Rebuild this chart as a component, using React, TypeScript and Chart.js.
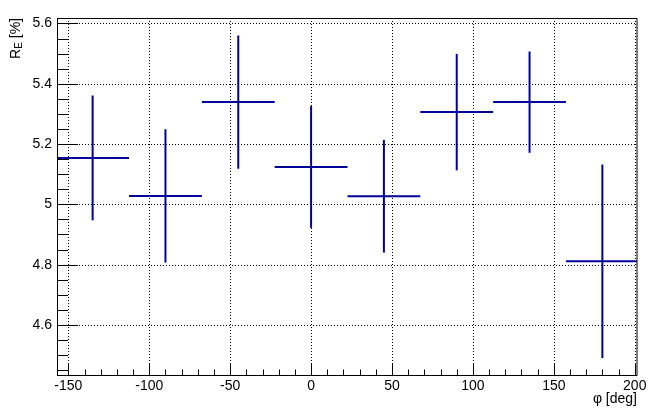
import React, { useEffect, useRef } from "react";
import { Chart, registerables } from "chart.js";

Chart.register(...registerables);

// ---- data ----
const phi = [-135, -90, -45, 0, 45, 90, 135, 180];
const phiErr = [22.5, 22.5, 22.5, 22.5, 22.5, 22.5, 22.5, 22.5];
const re = [5.154, 5.028, 5.339, 5.124, 5.027, 5.306, 5.339, 4.811];
const reErr = [0.207, 0.221, 0.221, 0.202, 0.187, 0.193, 0.168, 0.321];

const xMajorTicks = [-150, -100, -50, 0, 50, 100, 150, 200];
const xMinorTicks = [-150, -140, -130, -120, -110, -100, -90, -80, -70, -60, -50, -40, -30, -20, -10, 0, 10, 20, 30, 40, 50, 60, 70, 80, 90, 100, 110, 120, 130, 140, 150, 160, 170, 180, 190, 200];
const yMajorTicks = [4.6, 4.8, 5.0, 5.2, 5.4, 5.6];
const yMinorTicks = [4.45, 4.5, 4.55, 4.6, 4.65, 4.7, 4.75, 4.8, 4.85, 4.9, 4.95, 5.0, 5.05, 5.1, 5.15, 5.2, 5.25, 5.3, 5.35, 5.4, 5.45, 5.5, 5.55, 5.6];

const X_MIN = -156.4;
const X_MAX = 201.4;
const Y_MIN = 4.434;
const Y_MAX = 5.618;

const COLOR = "#000099";
const FONT = "'Liberation Sans', Arial, Helvetica, sans-serif";

const framePlugin = {
  id: "rootFrame",
  beforeDatasetsDraw(chart: any) {
    const { ctx, chartArea, scales } = chart;
    const { left, right, top, bottom } = chartArea;
    ctx.save();
    ctx.strokeStyle = "#000";
    ctx.lineWidth = 1;
    ctx.setLineDash([1, 2]);
    for (const v of xMajorTicks) {
      const px = Math.round(scales.x.getPixelForValue(v)) + 0.5;
      ctx.beginPath();
      ctx.moveTo(px, top);
      ctx.lineTo(px, bottom);
      ctx.stroke();
    }
    for (const v of yMajorTicks) {
      const py = Math.round(scales.y.getPixelForValue(v)) + 0.5;
      ctx.beginPath();
      ctx.moveTo(left, py);
      ctx.lineTo(right, py);
      ctx.stroke();
    }
    ctx.restore();
  },
  afterDatasetsDraw(chart: any) {
    const { ctx, chartArea, scales } = chart;
    const { left, right, top, bottom } = chartArea;
    ctx.save();
    ctx.strokeStyle = "#000";
    ctx.lineWidth = 1;
    ctx.setLineDash([]);
    // frame
    ctx.strokeRect(left - 0.5, top + 0.5, right - left + 0.5, bottom - top);
    // y ticks (inward)
    for (const v of yMinorTicks) {
      const py = Math.round(scales.y.getPixelForValue(v)) + 0.5;
      const major = yMajorTicks.some((m) => Math.abs(m - v) < 1e-6);
      ctx.beginPath();
      ctx.moveTo(left, py);
      ctx.lineTo(left + (major ? 20 : 10), py);
      ctx.stroke();
    }
    // x ticks (inward)
    for (const v of xMinorTicks) {
      const px = Math.round(scales.x.getPixelForValue(v)) + 0.5;
      const major = xMajorTicks.some((m) => Math.abs(m - v) < 1e-6);
      ctx.beginPath();
      ctx.moveTo(px, bottom);
      ctx.lineTo(px, bottom - (major ? 11 : 5.5));
      ctx.stroke();
    }
    ctx.restore();
  },
  afterDraw(chart: any) {
    const { ctx, chartArea } = chart;
    ctx.save();
    ctx.fillStyle = "#000";
    // y title: R_E [%]
    ctx.translate(20, chartArea.top);
    ctx.rotate(-Math.PI / 2);
    ctx.textBaseline = "alphabetic";
    ctx.textAlign = "left";
    const big = `14px ${FONT}`;
    const small = `10px ${FONT}`;
    ctx.font = big;
    const wR = ctx.measureText("R").width;
    const wRest = ctx.measureText(" [%]").width;
    ctx.font = small;
    const wE = ctx.measureText("E").width;
    const total = wR + wE + wRest;
    let xPos = -total;
    ctx.font = big;
    ctx.fillText("R", xPos, 0);
    xPos += wR;
    ctx.font = small;
    ctx.fillText("E", xPos, 2);
    xPos += wE;
    ctx.font = big;
    ctx.fillText(" [%]", xPos, 0);
    ctx.restore();

    // x title
    ctx.save();
    ctx.fillStyle = "#000";
    ctx.font = `14px ${FONT}`;
    ctx.textAlign = "right";
    ctx.textBaseline = "alphabetic";
    ctx.fillText("\u03c6 [deg]", chartArea.right, 403);
    ctx.restore();
  },
};

function buildDatasets() {
  const ds: any[] = [];
  phi.forEach((x, i) => {
    const y = re[i];
    ds.push({
      data: [
        { x: x - phiErr[i], y },
        { x: x + phiErr[i], y },
      ],
      borderColor: COLOR,
      borderWidth: 2,
      pointRadius: 0,
      showLine: true,
      borderCapStyle: "butt",
    });
    ds.push({
      data: [
        { x, y: y - reErr[i] },
        { x, y: y + reErr[i] },
      ],
      borderColor: COLOR,
      borderWidth: 2,
      pointRadius: 0,
      showLine: true,
      borderCapStyle: "butt",
    });
  });
  return ds;
}

export default function App() {
  const ref = useRef<HTMLCanvasElement | null>(null);
  useEffect(() => {
    document.body.style.margin = "0";
    const canvas = ref.current;
    if (!canvas) return;
    const chart = new Chart(canvas, {
      type: "scatter",
      data: { datasets: buildDatasets() },
      options: {
        responsive: false,
        animation: false,
        devicePixelRatio: 1,
        layout: { padding: { left: 0, top: 18, right: 26, bottom: 0 } },
        plugins: { legend: { display: false }, tooltip: { enabled: false } },
        scales: {
          x: {
            type: "linear",
            min: X_MIN,
            max: X_MAX,
            grid: { display: false, drawTicks: false },
            border: { display: false },
            afterBuildTicks: (s: any) => {
              s.ticks = xMajorTicks.map((v) => ({ value: v }));
            },
            afterFit: (s: any) => {
              s.height = 42;
            },
            ticks: {
              autoSkip: false,
              maxRotation: 0,
              padding: 3,
              color: "#000",
              font: { family: FONT, size: 14 },
              callback: (v: any) => String(v),
            },
          },
          y: {
            type: "linear",
            min: Y_MIN,
            max: Y_MAX,
            grid: { display: false, drawTicks: false },
            border: { display: false },
            afterBuildTicks: (s: any) => {
              s.ticks = yMajorTicks.map((v) => ({ value: v }));
            },
            afterFit: (s: any) => {
              s.width = 58;
            },
            ticks: {
              autoSkip: false,
              padding: 6,
              color: "#000",
              font: { family: FONT, size: 14 },
              callback: (v: any) => String(Number(Number(v).toFixed(2))),
            },
          },
        },
      },
      plugins: [framePlugin],
    } as any);
    return () => chart.destroy();
  }, []);
  return (
    <div style={{ position: "absolute", left: 0, top: 0, width: 663, height: 417, background: "#fff" }}>
      <canvas ref={ref} width={663} height={417} style={{ width: 663, height: 417, display: "block" }} />
    </div>
  );
}
